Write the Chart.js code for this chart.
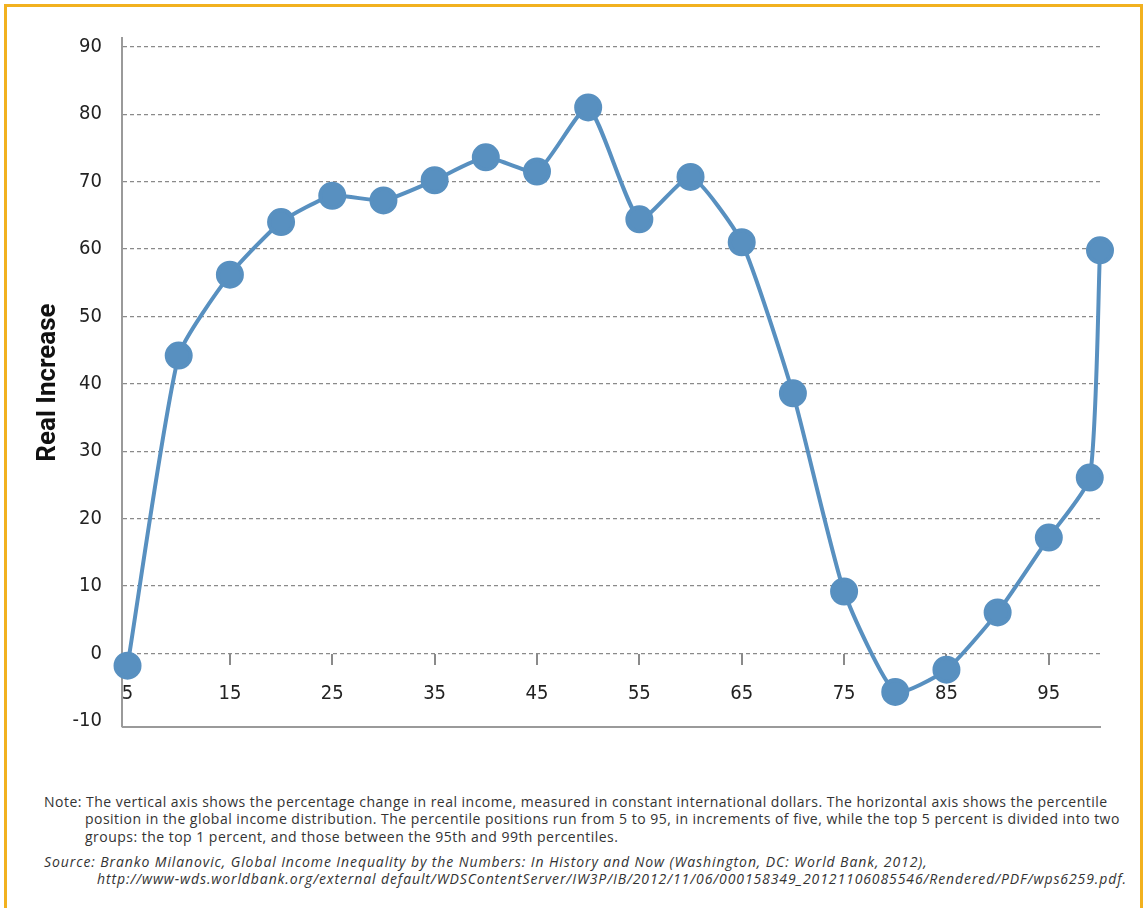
<!DOCTYPE html>
<html>
<head>
<meta charset="utf-8">
<script src="https://cdn.jsdelivr.net/npm/chart.js@4.4.0/dist/chart.umd.min.js"></script>
<style>
	html, body { margin: 0; padding: 0; background: #fff; }
	#frame {
		position: absolute; left: 4px; top: 4px;
		width: 1133px; height: 960px;
		border: 3px solid #f2b11f;
	}
	#wrap { position: absolute; left: 0; top: 0; width: 1145px; height: 760px; }
	.note {
		position: absolute; left: 44px; width: 1095px;
		font-family: "Open Sans", Roboto, sans-serif;
		font-size: 14px; color: #333; line-height: 17.3px;
		letter-spacing: 0.48px;
		white-space: nowrap;
	}
	.note .ind { padding-left: 41px; }
	#source { font-style: italic; letter-spacing: 0.9px; }
	#source .ind { padding-left: 53px; }
</style>
</head>
<body>
<div id="frame"></div>
<div id="wrap"><canvas id="myChart"></canvas></div>

<div class="note" style="top:793px">
	Note: The vertical axis shows the percentage change in real income, measured in constant international dollars. The horizontal axis shows the percentile<br>
	<span class="ind">position in the global income distribution. The percentile positions run from 5 to 95, in increments of five, while the top 5 percent is divided into two</span><br>
	<span class="ind">groups: the top 1 percent, and those between the 95th and 99th percentiles.</span>
</div>
<div class="note" id="source" style="top:853px">
	Source: Branko Milanovic, Global Income Inequality by the Numbers: In History and Now (Washington, DC: World Bank, 2012),<br>
	<span class="ind">http://www-wds.worldbank.org/external default/WDSContentServer/IW3P/IB/2012/11/06/000158349_20121106085546/Rendered/PDF/wps6259.pdf.</span>
</div>

<script>
// процентили и реальный прирост дохода
var percentile = [5, 10, 15, 20, 25, 30, 35, 40, 45, 50, 55, 60, 65, 70, 75, 80, 85, 90, 95, 99, 100];
var increase = [-1.8, 44.2, 56.2, 64.0, 67.9, 67.2, 70.2, 73.6, 71.5, 81.0, 64.4, 70.7, 61.0, 38.6, 9.2, -5.7, -2.4, 6.1, 17.2, 26.1, 59.8];
var xTicks = [5, 15, 25, 35, 45, 55, 65, 75, 85, 95];
var yTicks = [-10, 0, 10, 20, 30, 40, 50, 60, 70, 80, 90];

var points = [];
for (var i in percentile) {
	points.push({x: percentile[i], y: increase[i]});
}

var labelFont = {family: '"Liberation Sans Narrow", "DejaVu Sans Condensed", sans-serif', size: 20};

// нижняя линия оси
var bottomLine = {
	id: 'bottomLine',
	afterDraw: function(chart) {
		var a = chart.chartArea, ctx = chart.ctx;
		ctx.save();
		ctx.strokeStyle = '#9a9a9a';
		ctx.lineWidth = 2;
		ctx.beginPath();
		ctx.moveTo(a.left, a.bottom);
		ctx.lineTo(a.right + 1, a.bottom);
		ctx.stroke();
		ctx.restore();
	}
};

var config = {
	type: 'line',
	data: {
		datasets: [{
			data: points,
			borderColor: '#5890c0',
			backgroundColor: '#5890c0',
			borderWidth: 4,
			pointRadius: 12,
			pointHoverRadius: 12,
			tension: 0.18,
			fill: false,
			clip: false
		}]
	},
	options: {
		responsive: false,
		animation: false,
		devicePixelRatio: 1,
		layout: {padding: {top: 38, right: 45, bottom: 33, left: 0}},
		plugins: {legend: {display: false}, tooltip: {enabled: false}},
		scales: {
			x: {
				type: 'linear',
				min: 4.46,
				max: 100,
				position: {y: 0},
				afterBuildTicks: function(scale) {
					scale.ticks = xTicks.map(function(v) { return {value: v}; });
				},
				border: {display: false},
				grid: {drawOnChartArea: false, drawTicks: true, tickLength: 11, color: '#8a8a8a', lineWidth: 2},
				ticks: {padding: 17, color: '#222', font: labelFont, maxRotation: 0}
			},
			y: {
				min: -10.9,
				max: 91.3,
				afterBuildTicks: function(scale) {
					scale.ticks = yTicks.map(function(v) { return {value: v}; });
				},
				afterFit: function(scale) { scale.width = 122; },
				border: {display: true, color: '#9a9a9a', width: 2, dash: [4, 3]},
				grid: {
					drawTicks: false,
					lineWidth: 1.3,
					color: function(ctx) {
						return ctx.tick && ctx.tick.value === -10 ? 'rgba(0,0,0,0)' : '#8a8a8a';
					}
				},
				ticks: {padding: 20, color: '#222', font: labelFont},
				title: {
					display: true,
					text: 'Real Increase',
					color: '#111',
					font: {family: 'Roboto, "Liberation Sans", sans-serif', size: 26, weight: 'bold'},
					padding: {top: 33, bottom: 0}
				}
			}
		}
	},
	plugins: [bottomLine]
};

var canvas = document.getElementById('myChart');
canvas.width = 1145;
canvas.height = 760;
window.myLine = new Chart(canvas.getContext('2d'), config);
</script>
</body>
</html>
